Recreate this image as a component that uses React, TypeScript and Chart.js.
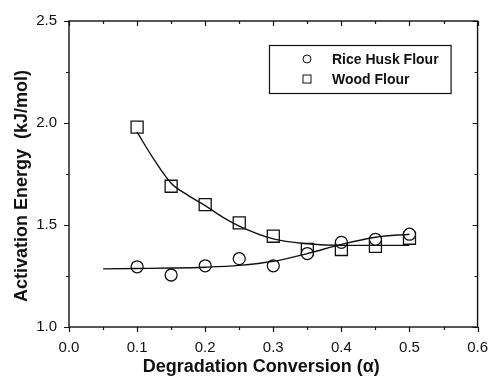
import React, { useEffect, useRef } from "react";
import { Chart, registerables } from "chart.js";

Chart.register(...registerables);

// Measured points
const conversion = [0.1, 0.15, 0.2, 0.25, 0.3, 0.35, 0.4, 0.45, 0.5];
const riceHuskEa = [1.295, 1.255, 1.3, 1.335, 1.3, 1.36, 1.415, 1.43, 1.455];
const woodFlourEa = [1.98, 1.69, 1.6, 1.51, 1.445, 1.38, 1.38, 1.395, 1.435];

// Fitted curves
const riceFitX = [0.05, 0.1, 0.15, 0.2, 0.25, 0.3, 0.35, 0.4, 0.45, 0.5];
const riceFitY = [1.285, 1.287, 1.289, 1.293, 1.302, 1.322, 1.36, 1.405, 1.44, 1.455];
const woodFitX = [0.1, 0.125, 0.15, 0.175, 0.2, 0.225, 0.25, 0.3, 0.35, 0.4, 0.45, 0.5];
const woodFitY = [1.955, 1.82, 1.705, 1.645, 1.595, 1.54, 1.495, 1.432, 1.408, 1.4, 1.4, 1.4];

// Axis ticks
const xMajorTicks = [0, 0.1, 0.2, 0.3, 0.4, 0.5, 0.6];
const xMinorTicks = [0.05, 0.15, 0.25, 0.35, 0.45, 0.55];
const yMajorTicks = [1.0, 1.5, 2.0, 2.5];
const yMinorTicks = [1.25, 1.75, 2.25];

const legendLabels = ["Rice Husk Flour", "Wood Flour"];
const xTitle = "Degradation Conversion (\u03b1)";
const yTitle = "Activation Energy  (kJ/mol)";

const FONT = "'Liberation Sans', Arial, Helvetica, sans-serif";
const INK = "#111";

const toPoints = (xs: number[], ys: number[]) => xs.map((x, i) => ({ x, y: ys[i] }));

// Box frame with outward ticks on bottom/left and inward ticks on top/right
const framePlugin = {
  id: "frame",
  afterDraw(chart: any) {
    const { ctx, chartArea: a, scales } = chart;
    const xs = scales.x;
    const ys = scales.y;
    ctx.save();
    ctx.strokeStyle = INK;
    ctx.lineWidth = 1.4;
    ctx.strokeRect(a.left, a.top, a.right - a.left, a.bottom - a.top);
    ctx.lineWidth = 1.2;
    ctx.beginPath();
    const xt = (v: number, len: number) => {
      const p = Math.round(xs.getPixelForValue(v)) + 0.5;
      ctx.moveTo(p, a.bottom);
      ctx.lineTo(p, a.bottom + len);
      ctx.moveTo(p, a.top);
      ctx.lineTo(p, a.top + len);
    };
    const yt = (v: number, len: number) => {
      const p = Math.round(ys.getPixelForValue(v)) + 0.5;
      ctx.moveTo(a.left, p);
      ctx.lineTo(a.left - len, p);
      ctx.moveTo(a.right, p);
      ctx.lineTo(a.right - len, p);
    };
    xMajorTicks.forEach((v) => xt(v, 5));
    xMinorTicks.forEach((v) => xt(v, 3));
    yMajorTicks.forEach((v) => yt(v, 5));
    yMinorTicks.forEach((v) => yt(v, 3));
    ctx.stroke();

    // axis titles
    ctx.fillStyle = INK;
    ctx.font = `bold 18px ${FONT}`;
    ctx.textAlign = "center";
    ctx.textBaseline = "middle";
    ctx.fillText(xTitle, (a.left + a.right) / 2 - 12, 367);
    ctx.save();
    ctx.translate(22, (a.top + a.bottom) / 2 + 12);
    ctx.rotate(-Math.PI / 2);
    ctx.fillText(yTitle, 0, 0);
    ctx.restore();

    // legend box
    const bx = a.left + 200;
    const by = a.top + 24;
    const bw = a.right - 27 - bx;
    const bh = 48;
    ctx.lineWidth = 1.2;
    ctx.strokeRect(bx + 0.5, by + 0.5, bw, bh);
    ctx.font = `bold 14px ${FONT}`;
    ctx.textAlign = "left";
    const symX = bx + 38;
    const row1 = by + 14;
    const row2 = by + 34;
    ctx.lineWidth = 1;
    ctx.beginPath();
    ctx.arc(symX, row1, 4, 0, Math.PI * 2);
    ctx.stroke();
    ctx.strokeRect(symX - 4, row2 - 4, 8, 8);
    ctx.fillText(legendLabels[0], bx + 63, row1 + 1);
    ctx.fillText(legendLabels[1], bx + 63, row2 + 1);
    ctx.restore();
  },
};

export default function App() {
  const canvasRef = useRef<HTMLCanvasElement>(null);

  useEffect(() => {
    const canvas = canvasRef.current;
    if (!canvas) return;
    const chart = new Chart(canvas, {
      type: "scatter",
      data: {
        datasets: [
          {
            label: "Rice Husk Flour fit",
            data: toPoints(riceFitX, riceFitY),
            showLine: true,
            borderColor: INK,
            borderWidth: 1.4,
            pointRadius: 0,
            cubicInterpolationMode: "monotone",
          },
          {
            label: "Wood Flour fit",
            data: toPoints(woodFitX, woodFitY),
            showLine: true,
            borderColor: INK,
            borderWidth: 1.4,
            pointRadius: 0,
            cubicInterpolationMode: "monotone",
          },
          {
            label: legendLabels[0],
            data: toPoints(conversion, riceHuskEa),
            pointStyle: "circle",
            pointRadius: 6,
            pointBorderWidth: 1.3,
            pointBorderColor: INK,
            pointBackgroundColor: "#fff",
          },
          {
            label: legendLabels[1],
            data: toPoints(conversion, woodFlourEa),
            pointStyle: "rect",
            pointRadius: 8.5,
            pointBorderWidth: 1.3,
            pointBorderColor: INK,
            pointBackgroundColor: "#fff",
          },
        ],
      },
      options: {
        animation: false,
        responsive: false,
        layout: { padding: { top: 17, right: 14, left: 0, bottom: 0 } },
        plugins: { legend: { display: false }, tooltip: { enabled: false } },
        scales: {
          x: {
            type: "linear",
            min: 0,
            max: 0.6,
            afterFit: (s: any) => {
              s.height = 52;
            },
            afterBuildTicks: (s: any) => {
              s.ticks = xMajorTicks.map((v) => ({ value: v }));
            },
            grid: { display: false, drawTicks: false },
            border: { display: false },
            ticks: {
              padding: 12,
              color: INK,
              font: { family: FONT, size: 15 },
              callback: (v: any) => Number(v).toFixed(1),
            },
          },
          y: {
            type: "linear",
            min: 1.0,
            max: 2.5,
            afterFit: (s: any) => {
              s.width = 69;
            },
            afterBuildTicks: (s: any) => {
              s.ticks = yMajorTicks.map((v) => ({ value: v }));
            },
            grid: { display: false, drawTicks: false },
            border: { display: false },
            ticks: {
              padding: 12,
              color: INK,
              font: { family: FONT, size: 15 },
              callback: (v: any) => Number(v).toFixed(1),
            },
          },
        },
      },
      plugins: [framePlugin],
    });
    return () => chart.destroy();
  }, []);

  return (
    <div style={{ position: "absolute", left: 0, top: 0, width: 500, height: 379, background: "#fff" }}>
      <canvas ref={canvasRef} width={500} height={379} style={{ display: "block" }} />
    </div>
  );
}
